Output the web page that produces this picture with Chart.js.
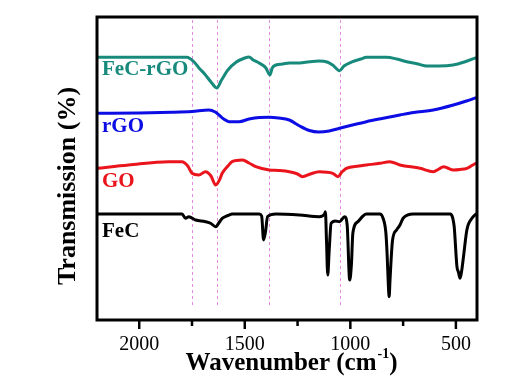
<!DOCTYPE html>
<html><head><meta charset="utf-8">
<script src="https://cdn.jsdelivr.net/npm/chart.js@4.4.1/dist/chart.umd.min.js"></script>
<style>html,body{margin:0;padding:0;background:#fff;}#wrap{width:524px;height:376px;}</style>
</head><body><div id="wrap"><canvas id="c" width="524" height="376"></canvas></div>
<script>
// Data (wavenumber in cm-1, transmission in arbitrary offset units)
const fecRgoWn = [2200,1775,1740,1717,1690,1660,1633,1610,1580,1540,1500,1480,1460,1432,1400,1381,1370,1352,1320,1289,1240,1194,1147,1110,1084,1051,1030,989,950,924,829,780,733,680,638,580,513,460,400];
const fecRgoT  = [262.7,262.7,258,252,246,238,232,240,250,258,262,263,260,257,252,245,252,255,256,257,257,258.3,259,258,255,249.3,254,258.3,261,262.7,262.7,261,258.3,256,254,254,255,258,262.7];
const rgoWn = [2200,2000,1846,1750,1670,1640,1622,1600,1575,1527,1480,1430,1384,1340,1289,1240,1194,1150,1100,1051,990,924,850,765,700,607,512,450,400];
const rgoT  = [206.7,207,207.7,208.5,210,208,205,201,198.3,198.3,201,202.5,202.7,202,200,194,189.5,188,189,191.7,195,198.3,201.5,205,207.5,210,215,219,222.7];
const goWn = [2200,2050,1860,1798,1770,1750,1718,1686,1660,1638,1620,1607,1580,1560,1511,1480,1448,1384,1340,1289,1250,1227,1190,1147,1083,1059,1040,1019,960,924,860,813,765,670,607,580,559,540,512,480,448,420,400];
const goT  = [151.7,155,158.3,158.3,154,146.7,145,148.3,144,135,140,146.7,154,158.3,160,157,153.3,150,149.5,148.3,146,143.3,146,148.3,146.7,143.3,148,151.7,154,155,156.7,158.3,155,151.7,148.3,151,153.3,152,150,150.5,151.7,155,157.3];
const fecWn = [2200,1797,1781,1765,1733,1686,1660,1638,1620,1607,1580,1559,1432,1420,1411,1402,1392,1352,1241,1147,1122,1118,1113,1107,1100,1091,1070,1051,1027,1015,1003,995,988,964,940,924,860,845,832,826,820,816,812,800,781,765,750,702,527,515,508,495,488,480,472,464,448,424,400];
const fecT  = [106,106,101.7,103.3,100,98.3,96.5,93.3,98,101.7,104.5,106,106,104,80,88,103.3,106,105,103.3,106,108.3,80,45,70,96.7,99,98.3,103.3,95,40,55,87,98.3,104,106,106,101.7,88,67,35,23.3,40,80,90,95,101.7,106,106,102,93.3,53.3,48,41.7,50,63.3,90,101.7,106.7];
const seriesNames = ['FeC-rGO','rGO','GO','FeC'];
const seriesColors = ['#178a7c','#0c0ce4','#ea141c','#000000'];
const markerWn = [1750,1630,1385,1050];
const majorTicks = [2000,1500,1000,500];
const minorTicks = [1750,1250,750];

const toPts = (w,t)=>w.map((x,i)=>({x:x,y:t[i]}));
const datasets = [[fecRgoWn,fecRgoT],[rgoWn,rgoT],[goWn,goT],[fecWn,fecT]].map((d,i)=>({
  label: seriesNames[i], data: toPts(d[0],d[1]), borderColor: seriesColors[i],
  borderWidth: 3, pointRadius: 0, fill: false, cubicInterpolationMode: 'monotone'
}));

const serif = '"Liberation Serif","Times New Roman",serif';
const deco = {
  id:'deco',
  beforeDatasetsDraw(chart){
    const {ctx, chartArea:a, scales:{x,y}} = chart;
    ctx.save();
    ctx.strokeStyle = '#e38ae3'; ctx.lineWidth = 1; ctx.setLineDash([3,3]);
    markerWn.forEach(w=>{
      const px = Math.round(x.getPixelForValue(w))+0.5;
      ctx.beginPath(); ctx.moveTo(px, y.getPixelForValue(300)); ctx.lineTo(px, y.getPixelForValue(15)); ctx.stroke();
    });
    ctx.restore();
  },
  afterDatasetsDraw(chart){
    const {ctx, chartArea:a, scales:{x,y}} = chart;
    ctx.save();
    ctx.strokeStyle = '#000'; ctx.lineWidth = 3; ctx.setLineDash([]);
    ctx.strokeRect(a.left, a.top, a.right-a.left, a.bottom-a.top);
    ctx.lineWidth = 2.5;
    majorTicks.forEach(w=>{const px=x.getPixelForValue(w); ctx.beginPath(); ctx.moveTo(px,a.bottom); ctx.lineTo(px,a.bottom+9); ctx.stroke();});
    minorTicks.forEach(w=>{const px=x.getPixelForValue(w); ctx.beginPath(); ctx.moveTo(px,a.bottom); ctx.lineTo(px,a.bottom+6); ctx.stroke();});
    // series labels
    ctx.font = 'bold 21px '+serif; ctx.textBaseline = 'middle'; ctx.textAlign = 'left';
    const labY = [70,127,182,232];
    seriesNames.forEach((n,i)=>{ctx.fillStyle = seriesColors[i]; ctx.fillText(n, a.left+5, labY[i]);});
    // axis titles
    ctx.fillStyle = '#000';
    ctx.font = 'bold 25px '+serif;
    const t1 = 'Wavenumber (cm', sup = '-1', t2 = ')';
    const w1 = ctx.measureText(t1).width, w3 = ctx.measureText(t2).width;
    ctx.font = 'bold 14px '+serif; const w2 = ctx.measureText(sup).width;
    let sx = 291 - (w1+w2+w3)/2;
    ctx.textBaseline = 'alphabetic';
    ctx.font = 'bold 25px '+serif; ctx.fillText(t1, sx, 370);
    ctx.font = 'bold 14px '+serif; ctx.fillText(sup, sx+w1+1, 358);
    ctx.font = 'bold 25px '+serif; ctx.fillText(t2, sx+w1+w2+1, 370);
    ctx.translate(68, 186); ctx.rotate(-Math.PI/2);
    ctx.textAlign = 'center'; ctx.textBaseline = 'middle';
    ctx.font = 'bold 26px '+serif; ctx.fillText('Transmission (%)', 0, 0);
    ctx.restore();
  }
};

new Chart(document.getElementById('c'), {
  type: 'line',
  data: { datasets },
  options: {
    responsive: false, animation: false, devicePixelRatio: 1,
    layout: { padding: { left: 97, right: 47, top: 17, bottom: 0 } },
    plugins: { legend: { display: false }, tooltip: { enabled: false } },
    scales: {
      x: {
        type: 'linear', reverse: true, min: 400, max: 2200,
        afterBuildTicks(s){ s.ticks = majorTicks.map(v=>({value:v})); },
        afterFit(s){ s.height = 56; },
        grid: { display: false }, border: { display: false },
        ticks: { color: '#000', font: { family: serif, size: 20 }, padding: 5, maxRotation: 0, autoSkip: false,
                 callback: v => String(v) }
      },
      y: { type: 'linear', min: 0, max: 303, display: false }
    }
  },
  plugins: [deco]
});
</script></body></html>
